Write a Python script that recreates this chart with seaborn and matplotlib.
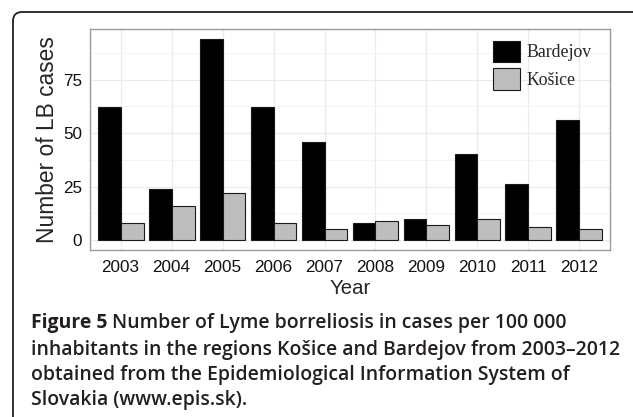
import matplotlib
matplotlib.use("Agg")
import matplotlib.pyplot as plt
import seaborn as sns
import pandas as pd
from matplotlib.patches import FancyBboxPatch
from matplotlib.transforms import IdentityTransform
from matplotlib.ticker import MultipleLocator

# data
years = ["2003", "2004", "2005", "2006", "2007", "2008", "2009", "2010", "2011", "2012"]
bardejov = [62, 24, 94, 62, 46, 8, 10, 40, 26, 56]
kosice = [8, 16, 22, 8, 5, 9, 7, 10, 6, 5]
regions = ["Bardejov", "Košice"]
y_ticks = [0, 25, 50, 75]

caption_bold = "Figure 5"
caption_lines = [
    " Number of Lyme borreliosis in cases per 100 000",
    "inhabitants in the regions Košice and Bardejov from 2003–2012",
    "obtained from the Epidemiological Information System of",
    "Slovakia (www.epis.sk).",
]

df = pd.DataFrame({
    "Year": years * 2,
    "cases": bardejov + kosice,
    "region": [regions[0]] * len(years) + [regions[1]] * len(years),
})

sns.set_style("white")
plt.rcParams["font.family"] = ["Liberation Sans", "DejaVu Sans"]

W, H = 633, 417
fig = plt.figure(figsize=(W / 100, H / 100), dpi=100)
ax = fig.add_axes([90 / W, 1 - 250 / H, 520 / W, 221 / H])

sns.barplot(data=df, x="Year", y="cases", hue="region", order=years,
            hue_order=regions, palette=["black", "#BEBEBE"], saturation=1,
            edgecolor="#1a1a1a", linewidth=0.8, width=0.9, errorbar=None, ax=ax)

ax.set_xlim(-0.6, len(years) - 0.4)
ax.set_ylim(-4.7, 98.7)
ax.set_yticks(y_ticks)
ax.yaxis.set_minor_locator(MultipleLocator(12.5))
ax.grid(True, which="major", color="#EBEBEB", lw=0.9)
ax.grid(True, which="minor", axis="y", color="#F2F2F2", lw=0.6)
ax.set_axisbelow(True)
for s in ax.spines.values():
    s.set_color("#9a9a9a")
    s.set_linewidth(1.0)
ax.tick_params(which="major", length=3.5, width=0.8, color="#333333",
               labelsize=12.3, labelcolor="#111111", pad=2)
ax.tick_params(axis="x", pad=4)
ax.tick_params(which="minor", length=0)
ax.set_xlabel("Year", fontsize=14.7, labelpad=2.5)
ax.set_ylabel("Number of LB cases", fontsize=16.4, labelpad=3)

h, l = ax.get_legend_handles_labels()
ax.legend(h, l, loc="upper left", bbox_to_anchor=(493 / W, 1 - 41 / H),
          bbox_transform=fig.transFigure, frameon=False, borderpad=0,
          borderaxespad=0, handlelength=1.52, handleheight=1.46,
          labelspacing=0.35, handletextpad=0.35,
          prop={"family": ["Liberation Serif"], "size": 12.8})

# rounded frame round the figure
frame = FancyBboxPatch((13, -40), W + 60, H + 40 - 12,
                       boxstyle="round,pad=0,rounding_size=9",
                       transform=IdentityTransform(), fill=False,
                       edgecolor="#222222", lw=1.3)
fig.patches.append(frame)

# caption
cap_font = ["Open Sans", "DejaVu Sans"]
fs = 12
baselines = [328, 355, 380, 405]
x0 = 31
fig.canvas.draw()
r = fig.canvas.get_renderer()
probe = fig.text(0, 0, caption_lines[1], fontsize=fs, family=cap_font, weight="semibold")
wpx = probe.get_window_extent(r).width
probe.remove()
fs = fs * (620 - x0) / wpx

t = fig.text(x0 / W, 1 - baselines[0] / H, caption_bold, fontsize=fs,
             family=cap_font, weight="bold", va="baseline", color="#231f20")
bb = t.get_window_extent(r)
fig.text(bb.x1 / W, 1 - baselines[0] / H, caption_lines[0], fontsize=fs,
         family=cap_font, weight="semibold", va="baseline", color="#231f20")
for line, b in zip(caption_lines[1:], baselines[1:]):
    fig.text(x0 / W, 1 - b / H, line, fontsize=fs, family=cap_font,
             weight="semibold", va="baseline", color="#231f20")

fig.savefig("out.png", dpi=100)
